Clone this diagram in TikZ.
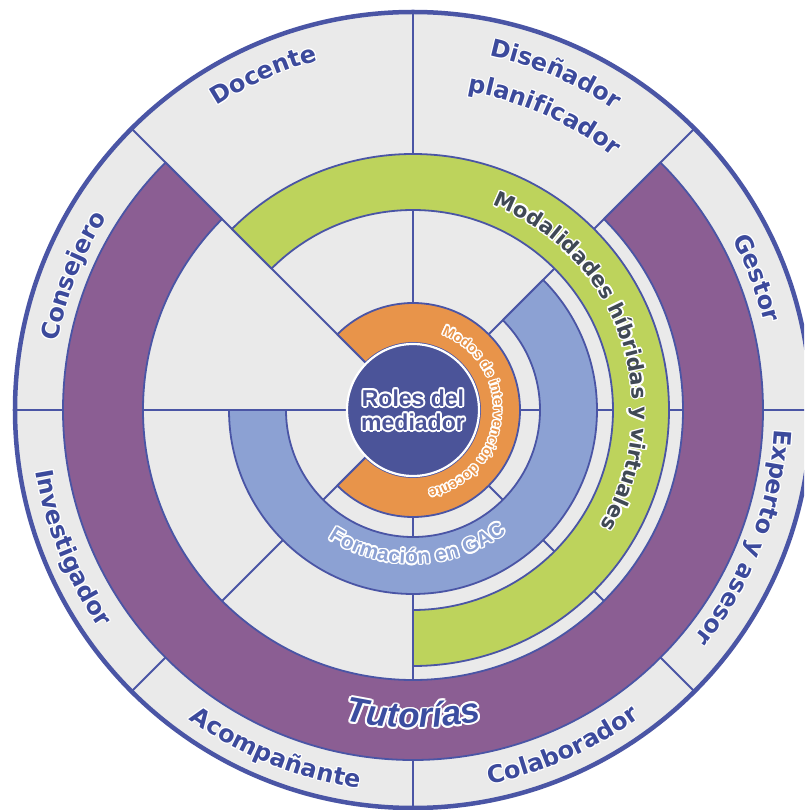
\documentclass[tikz,border=0pt]{standalone}
\usepackage{fontspec}
\setmainfont{Liberation Sans}
\newfontfamily\djv{DejaVu Sans}
\usepackage{xcolor}
\usepackage{tikz}
\usetikzlibrary{decorations.text}
\definecolor{cell}{HTML}{EAEAEA}
\definecolor{rim}{HTML}{4A55A5}
\definecolor{ink}{HTML}{3C4A9C}
\definecolor{tutink}{HTML}{3B4DA0}
\definecolor{tut}{HTML}{8B5E93}
\definecolor{modal}{HTML}{BDD35C}
\definecolor{form}{HTML}{8CA1D3}
\definecolor{modos}{HTML}{E8944A}
\definecolor{core}{HTML}{4B5499}
\definecolor{slate}{HTML}{404955}
\tikzset{
  band/.style={draw=rim, line width=1.8pt, line join=round},
  spoke/.style={draw=rim, line width=1.8pt},
  corelab/.style={font=\corefont, align=center, inner sep=0pt},
}
\newcommand{\rolefont}{\djv\bfseries\fontsize{24}{26}\selectfont}
\newcommand{\modalfont}{\djv\bfseries\fontsize{21}{23}\selectfont}
\newcommand{\modosfont}{\bfseries\fontsize{14}{16}\selectfont}
\newcommand{\formfont}{\bfseries\fontsize{21}{23}\selectfont}
\newcommand{\tutfont}{\bfseries\itshape\fontsize{35}{37}\selectfont}
\newcommand{\corefont}{\bfseries\fontsize{23}{24}\selectfont}
% annular sector: colour, from, to, inner r, outer r
\newcommand{\band}[5]{%
  \draw[band, fill=#1] (#2:#4pt) arc[start angle=#2, end angle=#3, radius=#4pt]
    -- (#3:#5pt) arc[start angle=#3, end angle=#2, radius=#5pt] -- cycle;}
% text on an arc with a white halo: colour, font, halo, r, from, to, text
\newcommand{\arctext}[7]{%
  \foreach \h in {0,30,...,330}
    \path[shift={(\h:#3)}, decorate, decoration={text along path, text color=white,
      text align=center, text={|#2|#7}}]
      (#5:#4pt) arc[start angle=#5, end angle=#6, radius=#4pt];
  \path[decorate, decoration={text along path, text color=#1,
    text align=center, text={|#2|#7}}]
    (#5:#4pt) arc[start angle=#5, end angle=#6, radius=#4pt];}

\begin{document}
\begin{tikzpicture}[x=1pt, y=1pt]
  \useasboundingbox (-413,-400) rectangle (391,410);
  \fill[white] (-413,-400) rectangle (391,410);
  \clip (-413,-400) rectangle (391,410);

  % disk and spokes
  \fill[cell] (0,0) circle[radius=398pt];
  \foreach \a in {0,45,...,315}
    \draw[spoke] (\a:60pt) -- (\a:398pt);

  % rings
  \band{tut}{45}{-225}{270}{350}
  \band{modal}{135}{-90}{200}{256}
  \band{form}{45}{-180}{127}{184}
  \band{modos}{135}{-135}{67}{107}
  \draw[fill=core, draw=white, line width=2.2pt] (0,0) circle[radius=66pt];
  \draw[rim, line width=4.5pt] (0,0) circle[radius=398pt];

  % roles
  \arctext{ink}{\rolefont}{1pt}{362}{144}{84}{Docente}
  \arctext{ink}{\rolefont}{1pt}{362}{100}{34}{Diseñador}
  \arctext{ink}{\rolefont}{1pt}{323}{100}{32}{planificador}
  \arctext{ink}{\rolefont}{1pt}{362}{50}{-8}{Gestor}
  \arctext{ink}{\rolefont}{1pt}{362}{20}{-62}{Experto y asesor}
  \arctext{ink}{\rolefont}{1pt}{382}{-110}{-22}{Colaborador}
  \arctext{ink}{\rolefont}{1pt}{382}{-156}{-68}{Acompañante}
  \arctext{ink}{\rolefont}{1pt}{382}{-202}{-114}{Investigador}
  \arctext{ink}{\rolefont}{1pt}{362}{200}{117}{Consejero}

  % ring labels
  \arctext{slate}{\modalfont}{1.5pt}{220}{75}{-38}{Modalidades híbridas y virtuales}
  \arctext{modos}{\modosfont}{1.3pt}{81}{90}{-100}{Modos de intervención docente}
  \arctext{form}{\formfont}{1.5pt}{154}{-150}{-26}{Formación en GAC}
  \arctext{tutink}{\tutfont}{1.8pt}{318}{-130}{-50}{Tutorías}

  % centre
  \foreach \h in {0,30,...,330}
    \node (halo\h) [corelab, text=white] at (\h:1.8pt) {Roles del\\mediador};
  \node (roles) [corelab, text=core] at (0,0) {Roles del\\mediador};
\end{tikzpicture}
\end{document}
